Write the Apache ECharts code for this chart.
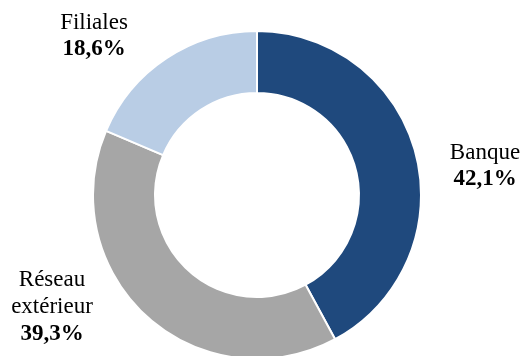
<!DOCTYPE html>
<html>
<head>
<meta charset="utf-8">
<script src="https://cdn.jsdelivr.net/npm/echarts@6/dist/echarts.min.js"></script>
<style>
  html, body { margin: 0; padding: 0; background: #fff; }
  #chart { width: 524px; height: 356px; }
</style>
</head>
<body>
<div id="chart"></div>
<script>
// Share of each segment, in percent
const categories = ['Banque', 'Réseau extérieur', 'Filiales'];
const shares = [42.1, 39.3, 18.6];
const colors = ['#1F497D', '#A6A6A6', '#B9CDE5'];

// Where each label block sits (centre of the text block, in px)
const labelSpots = [[485, 166], [52, 307], [94, 36]];

const fmt = v => v.toFixed(1).replace('.', ',') + '%';

const chart = echarts.init(document.getElementById('chart'));
chart.setOption({
  animation: false,
  backgroundColor: '#ffffff',
  series: [{
    type: 'pie',
    center: [257, 195],
    radius: [102, 164],
    startAngle: 90,
    clockwise: true,
    avoidLabelOverlap: false,
    itemStyle: { borderColor: '#ffffff', borderWidth: 2 },
    labelLine: { show: false },
    label: {
      show: true,
      position: 'outside',
      fontFamily: '"Liberation Serif", "Times New Roman", serif',
      color: '#000',
      formatter: p => p.name.split(' ').map(w => '{n|' + w + '}').join('\n') + '\n{v|' + fmt(p.value) + '}',
      rich: {
        n: { fontFamily: '"Liberation Serif", serif', fontSize: 23, lineHeight: 27, color: '#000' },
        v: { fontFamily: '"Liberation Serif", serif', fontSize: 23, lineHeight: 27, fontWeight: 'bold', color: '#000' }
      }
    },
    labelLayout: p => ({
      x: labelSpots[p.dataIndex][0],
      y: labelSpots[p.dataIndex][1],
      align: 'center',
      verticalAlign: 'middle'
    }),
    data: categories.map((c, i) => ({ name: c, value: shares[i], itemStyle: { color: colors[i] } }))
  }]
});
</script>
</body>
</html>
